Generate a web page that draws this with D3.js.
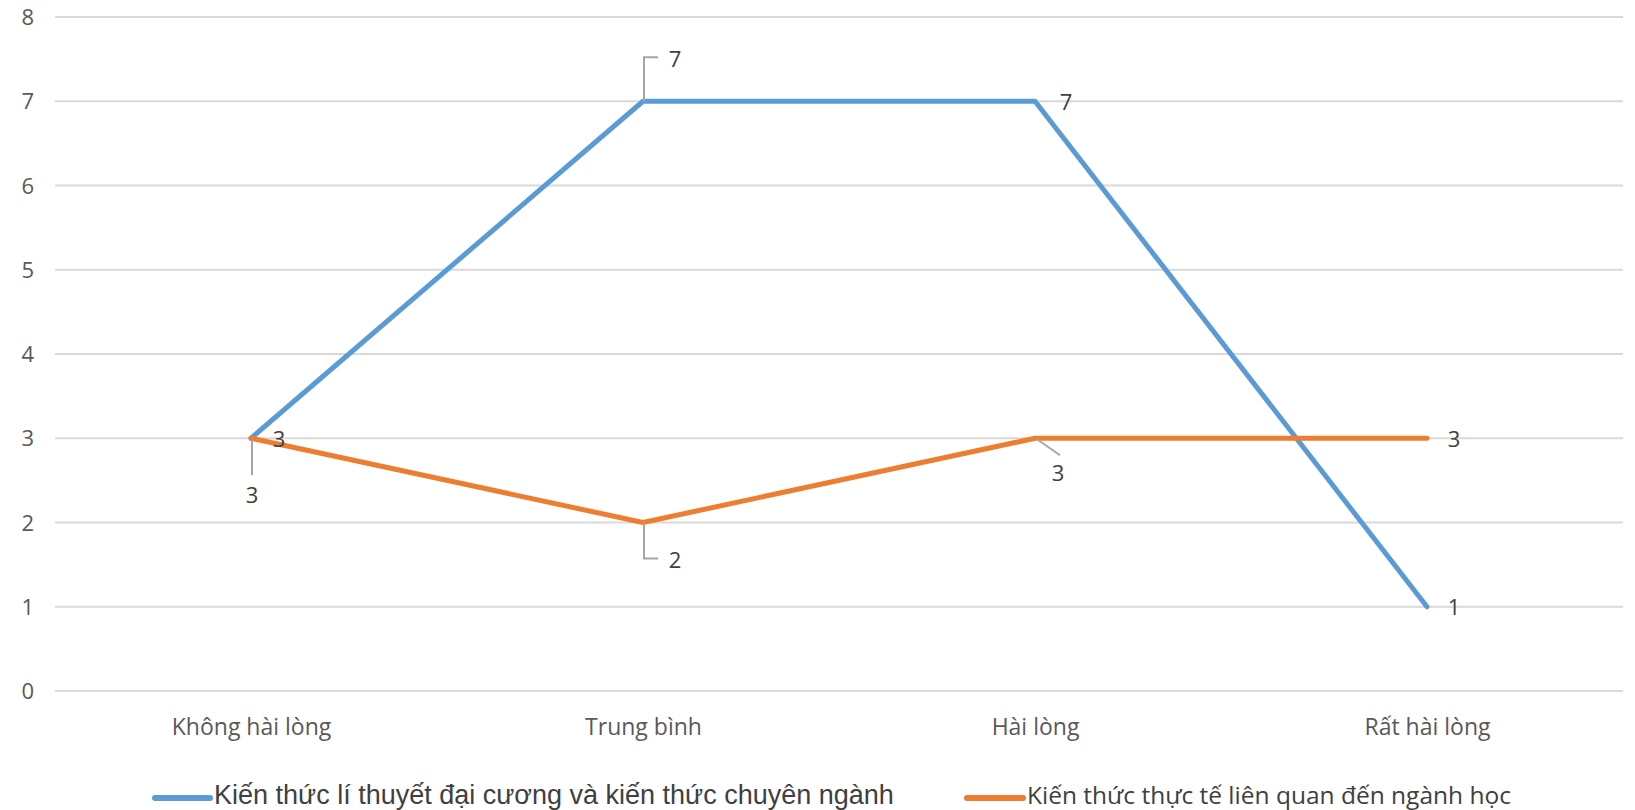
<!DOCTYPE html>
<html><head><meta charset="utf-8">
<script src="https://cdn.jsdelivr.net/npm/d3@7"></script>
<style>html,body{margin:0;padding:0;background:#fff;}svg{display:block;}</style>
</head><body>
<svg id="chart" width="1635" height="810"></svg>
<script>
const categories = ["Không hài lòng", "Trung bình", "Hài lòng", "Rất hài lòng"];
const seriesNames = ["Kiến thức lí thuyết đại cương và kiến thức chuyên ngành", "Kiến thức thực tế liên quan đến ngành học"];
const blueValues = [3, 7, 7, 1];
const orangeValues = [3, 2, 3, 3];
const yTicks = [0, 1, 2, 3, 4, 5, 6, 7, 8];

// label layout (offsets from point, leader polyline points)
const labelLayout = [
  [ {dx:28, dy:1, leader:null}, {dx:32, dy:-42, leader:[[1,0],[1,-44],[15,-44]]}, {dx:31, dy:1, leader:null}, {dx:27, dy:1, leader:null} ],
  [ {dx:1, dy:57, leader:[[1,2],[1,37]]}, {dx:32, dy:38, leader:[[1,0],[1,36],[15,36]]}, {dx:23, dy:35, leader:[[2,1],[25,17]]}, {dx:27, dy:1, leader:null} ]
];

const svg = d3.select("#chart");
const x = d3.scalePoint().domain(categories).range([55, 1623]).padding(0.5);
const y = d3.scaleLinear().domain([0, 8]).range([691, 17]);
const colors = ["#5B9BD5", "#ED7D31"];

// gridlines
svg.append("g").selectAll("line").data(yTicks).join("line")
  .attr("x1", 55).attr("x2", 1623)
  .attr("y1", d => y(d)).attr("y2", d => y(d))
  .attr("stroke", "#D9D9D9").attr("stroke-width", 2);

// y axis labels
const yAxis = d3.axisLeft(y).tickValues(yTicks).tickSize(0).tickPadding(0).tickFormat(d3.format("d"));
const yg = svg.append("g").attr("transform", "translate(34,0)").call(yAxis);
yg.select(".domain").remove();
yg.selectAll("text").attr("font-family", "Open Sans, sans-serif").attr("font-size", 22).attr("fill", "#595959").attr("dy", "0.35em");

// x axis labels
const xAxis = d3.axisBottom(x).tickSize(0).tickPadding(0);
const xg = svg.append("g").attr("transform", "translate(0,727)").call(xAxis);
xg.select(".domain").remove();
xg.selectAll("text").attr("font-family", "Open Sans, sans-serif").attr("font-size", 23).attr("fill", "#595959").attr("dy", "0.35em");

const allSeries = [blueValues, orangeValues];
const line = d3.line().x((d, i) => x(categories[i])).y(d => y(d));

allSeries.forEach((vals, s) => {
  svg.append("path").datum(vals)
    .attr("d", line).attr("fill", "none")
    .attr("stroke", colors[s]).attr("stroke-width", 5)
    .attr("stroke-linejoin", "round").attr("stroke-linecap", "round");
});

// data labels
allSeries.forEach((vals, s) => {
  vals.forEach((v, i) => {
    const px = x(categories[i]), py = y(v);
    const L = labelLayout[s][i];
    if (L.leader) {
      svg.append("polyline")
        .attr("points", L.leader.map(p => [px + p[0], py + p[1]].join(",")).join(" "))
        .attr("fill", "none").attr("stroke", "#A6A6A6").attr("stroke-width", 2);
    }
    svg.append("text").attr("x", px + L.dx).attr("y", py + L.dy)
      .attr("text-anchor", "middle").attr("dy", "0.35em")
      .attr("font-family", "Open Sans, sans-serif").attr("font-size", 22)
      .attr("fill", "#404040").text(v);
  });
});

// legend
const legend = [
  {x1: 155, x2: 210, tx: 214, font: "Liberation Sans, Arial, sans-serif", size: 27},
  {x1: 967, x2: 1023, tx: 1027, font: "Open Sans, sans-serif", size: 24.5}
];
legend.forEach((L, s) => {
  svg.append("line").attr("x1", L.x1).attr("x2", L.x2).attr("y1", 798).attr("y2", 798)
    .attr("stroke", colors[s]).attr("stroke-width", 6).attr("stroke-linecap", "round");
  svg.append("text").attr("x", L.tx).attr("y", 804)
    .attr("font-family", L.font).attr("font-size", L.size).attr("fill", "#404040")
    .text(seriesNames[s]);
});
</script>
</body></html>
